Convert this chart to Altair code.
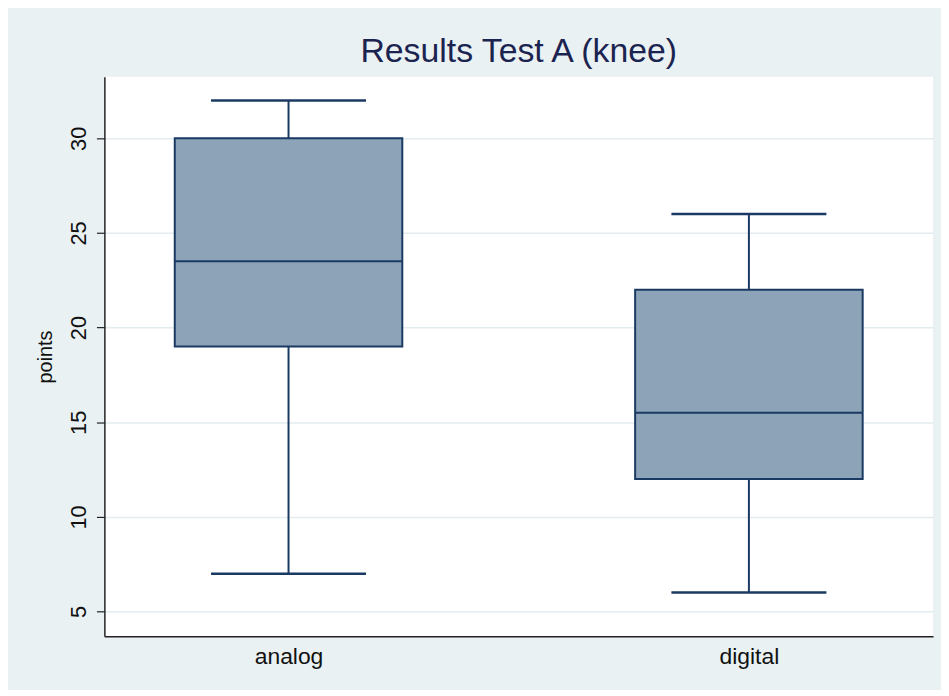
import altair as alt
import pandas as pd

groups = ["analog", "digital"]
lower_whisker = [7, 6]
q1 = [19, 12]
median = [23.5, 15.5]
q3 = [30, 22]
upper_whisker = [32, 26]
y_ticks = [5, 10, 15, 20, 25, 30]

df = pd.DataFrame({
    "group": groups,
    "lo": lower_whisker,
    "q1": q1,
    "med": median,
    "q3": q3,
    "hi": upper_whisker,
})

BG = "#EAF1F3"
FILL = "#8DA3B7"
LINE = "#1B3A63"
FONT = "Liberation Sans"

x_enc = alt.X("group:N", sort=groups, title=None,
              scale=alt.Scale(type="point", padding=0.4),
              axis=alt.Axis(labelFontSize=23, labelColor="#111111", labelFont=FONT,
                            labelPadding=10, ticks=False, domainColor="#222222",
                            domainWidth=1.5, labelAngle=0, grid=False))
y_scale = alt.Scale(domain=[3.7, 33.25], nice=False, zero=False)
y_axis = alt.Axis(values=y_ticks, title="points", titleFontSize=20, titleFont=FONT,
                  titleFontWeight="normal", titleColor="#111111", titlePadding=12,
                  labelFontSize=22, labelFont=FONT, labelColor="#111111",
                  labelAngle=270, labelAlign="center", labelBaseline="bottom",
                  labelPadding=6, tickSize=8, tickColor="#222222", tickWidth=1.2,
                  domainColor="#222222", domainWidth=1.5,
                  grid=True, gridColor="#E3ECEF", gridWidth=1.5)

base = alt.Chart(df)

whisk_lo = base.mark_rule(color=LINE, strokeWidth=2).encode(
    x=x_enc, y=alt.Y("lo:Q", scale=y_scale, axis=y_axis), y2="q1:Q")
whisk_hi = base.mark_rule(color=LINE, strokeWidth=2).encode(
    x=x_enc, y=alt.Y("q3:Q", scale=y_scale, axis=y_axis), y2="hi:Q")
box = base.mark_bar(size=229, fill=FILL, stroke=LINE, strokeWidth=2).encode(
    x=x_enc, y=alt.Y("q1:Q", scale=y_scale, axis=y_axis), y2="q3:Q")
med = base.mark_tick(size=229, thickness=2, color=LINE, orient="horizontal", opacity=1).encode(
    x=x_enc, y=alt.Y("med:Q", scale=y_scale, axis=y_axis))
cap_lo = base.mark_tick(size=156, thickness=2.5, color=LINE, orient="horizontal", opacity=1).encode(
    x=x_enc, y=alt.Y("lo:Q", scale=y_scale, axis=y_axis))
cap_hi = base.mark_tick(size=156, thickness=2.5, color=LINE, orient="horizontal", opacity=1).encode(
    x=x_enc, y=alt.Y("hi:Q", scale=y_scale, axis=y_axis))

chart = alt.layer(whisk_lo, whisk_hi, box, med, cap_lo, cap_hi).properties(
    width=834, height=563,
    title=alt.TitleParams("Results Test A (knee)", fontSize=34, font=FONT,
                          fontWeight="normal", color="#1B2450", anchor="middle", offset=8),
    background=BG,
    padding={"left": 97, "top": 67, "right": 8, "bottom": 52},
    autosize=alt.AutoSizeParams(type="none"),
).configure_view(fill="white", stroke=None)

chart.save("out.html", embed_options={"renderer": "svg", "actions": False})
